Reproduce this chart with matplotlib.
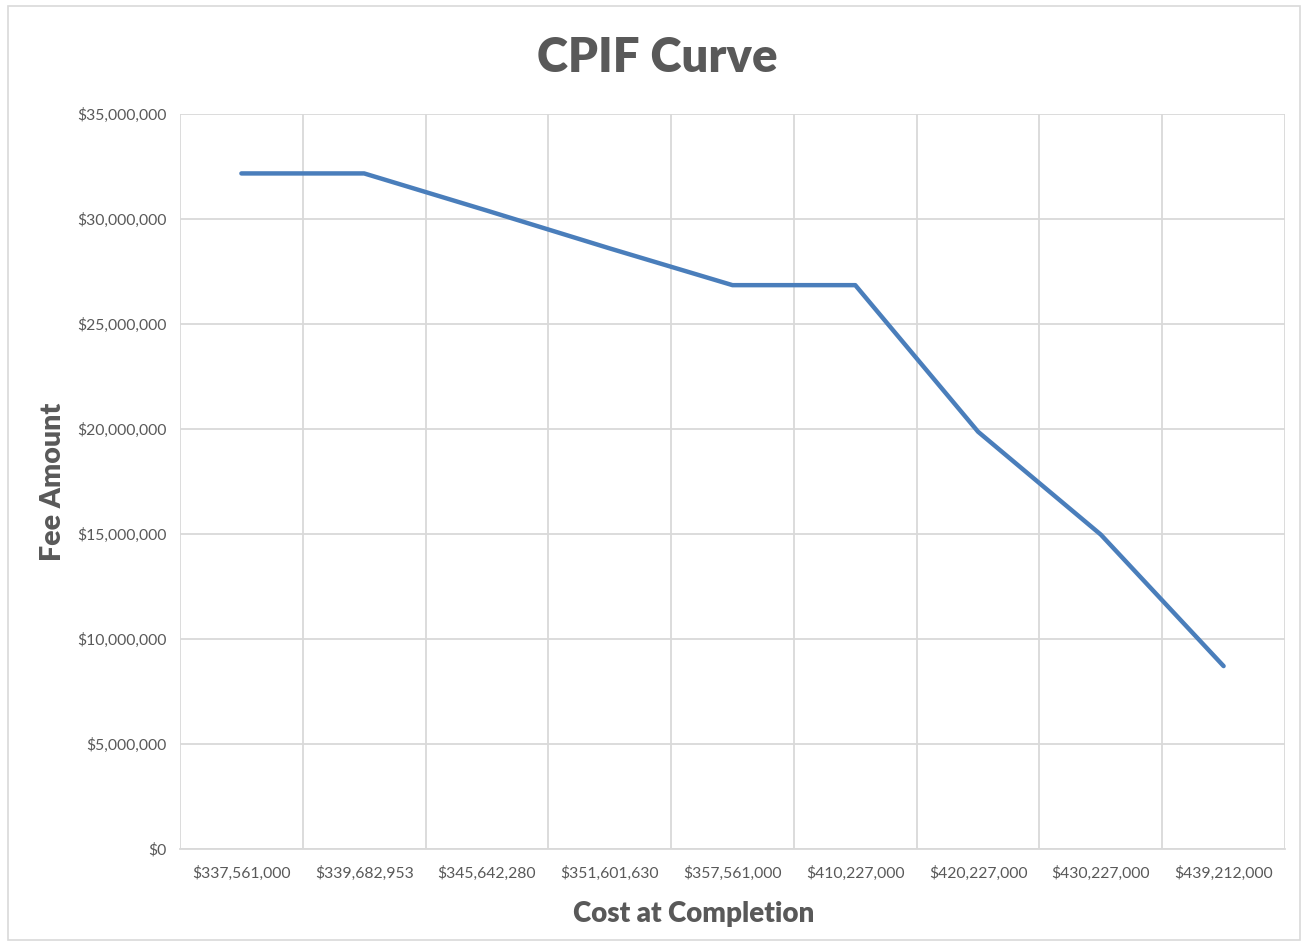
import matplotlib
matplotlib.use("Agg")
import matplotlib.pyplot as plt
from matplotlib.ticker import FuncFormatter, MultipleLocator
from matplotlib.patches import Rectangle

categories = ["$337,561,000", "$339,682,953", "$345,642,280", "$351,601,630",
              "$357,561,000", "$410,227,000", "$420,227,000", "$430,227,000",
              "$439,212,000"]
fee = [32170000, 32170000, 30400000, 28600000, 26850000, 26850000,
       19870000, 14970000, 8710000]

W, H = 1305, 946
fig = plt.figure(figsize=(W / 100, H / 100), dpi=100)
plt.rcParams['font.family'] = ['Lato', 'DejaVu Sans']

# outer chart frame
fig.patches.append(Rectangle((8 / W, 6 / H), (1300 - 8) / W, (940 - 6) / H,
                             transform=fig.transFigure, fill=False,
                             edgecolor='#D9D9D9', linewidth=1.2))

left, right, top, bottom = 180, 1285, 114, 849
ax = fig.add_axes([left / W, 1 - bottom / H, (right - left) / W, (bottom - top) / H])

x = list(range(len(categories)))
ax.plot(x, fee, color='#4A7EBB', linewidth=3.2, solid_capstyle='round',
        solid_joinstyle='round', zorder=3)

ax.set_xlim(-0.5, len(categories) - 0.5)
ax.set_ylim(0, 35000000)
ax.yaxis.set_major_locator(MultipleLocator(5000000))
ax.yaxis.set_major_formatter(FuncFormatter(lambda v, p: "${:,.0f}".format(v)))
ax.set_xticks(x)
ax.set_xticklabels(categories)
ax.set_xticks([i - 0.5 for i in range(len(categories) + 1)], minor=True)

grid_c = '#D9D9D9'
ax.grid(axis='y', which='major', color=grid_c, linewidth=1.3)
ax.grid(axis='x', which='minor', color=grid_c, linewidth=1.3)
ax.grid(axis='x', which='major', visible=False)
for s in ['top', 'right', 'left']:
    ax.spines[s].set_visible(False)
ax.spines['bottom'].set_color(grid_c)
ax.spines['bottom'].set_linewidth(1.3)
ax.tick_params(axis='both', which='both', length=0, colors='#595959', labelsize=11.3)
ax.tick_params(axis='x', pad=12)
ax.tick_params(axis='y', pad=10)
ax.set_axisbelow(True)

fig.text(657 / W, 1 - 58 / H, "CPIF Curve", ha='center', va='center',
         fontsize=34, fontweight='heavy', color='#595959')
fig.text(694 / W, 1 - 914 / H, "Cost at Completion", ha='center', va='center',
         fontsize=20, fontweight='heavy', color='#595959')
fig.text(53 / W, 1 - 482 / H, "Fee Amount", ha='center', va='center',
         rotation=90, fontsize=20.5, fontweight='heavy', color='#595959')

fig.savefig("out.png", dpi=100)
